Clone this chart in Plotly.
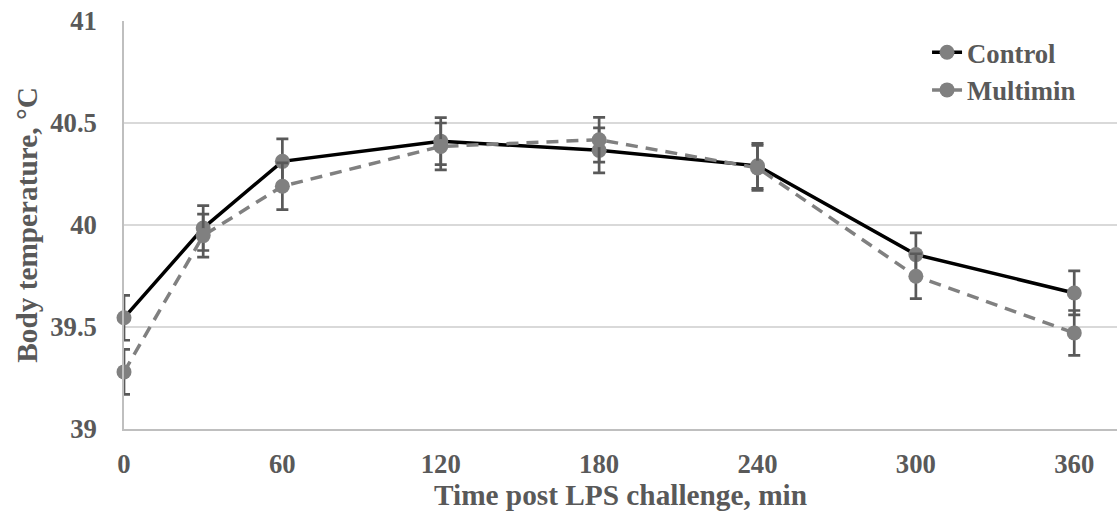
import plotly.graph_objects as go

time_min = [0, 30, 60, 120, 180, 240, 300, 360]
control = [39.545, 39.985, 40.312, 40.411, 40.366, 40.29, 39.855, 39.667]
multimin = [39.28, 39.948, 40.19, 40.385, 40.418, 40.28, 39.749, 39.471]
control_err = [0.11, 0.11, 0.11, 0.115, 0.11, 0.11, 0.106, 0.108]
multimin_err = [0.11, 0.105, 0.115, 0.115, 0.11, 0.11, 0.11, 0.11]
x_ticks = [0, 60, 120, 180, 240, 300, 360]
y_ticks = [39, 39.5, 40, 40.5, 41]
y_tick_text = ["39", "39.5", "40", "40.5", "41"]

FONT = "Liberation Serif"
TXT = "#595959"
FS = 26.7
TS = 29.3

def f(size):
    return dict(family=FONT, size=size, color=TXT, weight="bold")

fig = go.Figure()
fig.add_trace(go.Scatter(
    x=time_min, y=control, name="Control", mode="lines+markers",
    line=dict(color="black", width=3.5),
    marker=dict(color="#808080", size=15),
    cliponaxis=False,
    error_y=dict(type="data", array=control_err, visible=True,
                 color="#595959", thickness=2.7, width=6),
))
fig.add_trace(go.Scatter(
    x=time_min, y=multimin, name="Multimin", mode="lines+markers",
    line=dict(color="#808080", width=3.5, dash="12px,8px"),
    marker=dict(color="#808080", size=15),
    cliponaxis=False,
    error_y=dict(type="data", array=multimin_err, visible=True,
                 color="#595959", thickness=2.7, width=6),
))

fig.update_layout(
    width=1117, height=525,
    margin=dict(l=124, r=0, t=20.5, b=96),
    paper_bgcolor="white", plot_bgcolor="white",
    font=f(FS),
    showlegend=True,
    legend=dict(x=0.8087, y=0.982, xanchor="left", yanchor="top",
                bgcolor="rgba(0,0,0,0)", font=f(FS), tracegroupgap=0),
    xaxis=dict(
        range=[0, 376.2], tickvals=x_ticks, ticktext=[str(v) for v in x_ticks],
        showgrid=False, zeroline=False,
        showline=True, linecolor="#bfbfbf", linewidth=1.5,
        ticks="", ticklabelstandoff=10,
        tickfont=f(FS),
        title=dict(text="Time post LPS challenge, min", font=f(TS), standoff=4),
    ),
    yaxis=dict(
        range=[39, 41], tickvals=y_ticks, ticktext=y_tick_text,
        showgrid=True, gridcolor="#d9d9d9", gridwidth=1.5, zeroline=False,
        showline=True, linecolor="#bfbfbf", linewidth=1.5,
        ticks="", ticklabelstandoff=20,
        tickfont=f(FS),
        title=dict(text="Body temperature, °C", font=f(TS), standoff=4),
    ),
)

fig.write_html("out.html")
